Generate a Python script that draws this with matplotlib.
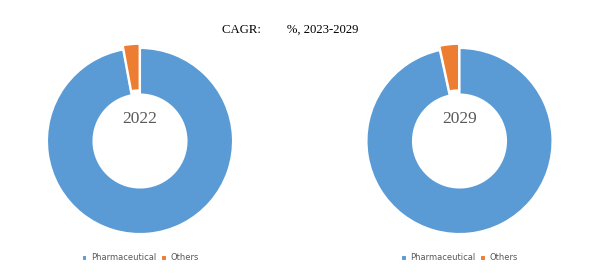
import matplotlib
matplotlib.use("Agg")
import matplotlib.pyplot as plt

categories = ["Pharmaceutical", "Others"]
years = ["2022", "2029"]
values_2022 = [97.1, 2.9]
values_2029 = [96.6, 3.4]
title_text = "CAGR:        %, 2023-2029"

colors = ["#5B9BD5", "#ED7D31"]
W, H = 600, 277
fig = plt.figure(figsize=(6, 2.77), dpi=100)
fig.patch.set_facecolor("white")

fig.text(290 / W, 1 - 30 / H, title_text, ha="center", va="center",
         fontsize=9.2, family="Liberation Serif", color="black")

centers = [(140, 141), (459.5, 141)]
R = 93
for (cx, cy), year, vals in zip(centers, years, [values_2022, values_2029]):
    ax = fig.add_axes([(cx - R) / W, (H - cy - R) / H, 2 * R / W, 2 * R / H])
    wedges, _ = ax.pie(vals, colors=colors, startangle=90, counterclock=False,
                       radius=1.0, explode=[0, 0.045],
                       wedgeprops=dict(width=0.5, edgecolor="white", linewidth=1.5))
    ax.set_xlim(-1, 1)
    ax.set_ylim(-1, 1)
    ax.set_aspect("equal")
    ax.axis("off")
    ax.text(0, 0.24, year, ha="center", va="center", fontsize=12.5,
            family="Liberation Serif", color="#595959")
    leg = fig.legend(wedges, categories, loc="center",
                     bbox_to_anchor=(cx / W, 1 - 258 / H), ncol=2, frameon=False,
                     fontsize=6, handlelength=0.7, handleheight=0.7,
                     handletextpad=0.4, columnspacing=0.6)
    for t in leg.get_texts():
        t.set_color("#595959")

fig.savefig("out.png", dpi=100, facecolor="white")
